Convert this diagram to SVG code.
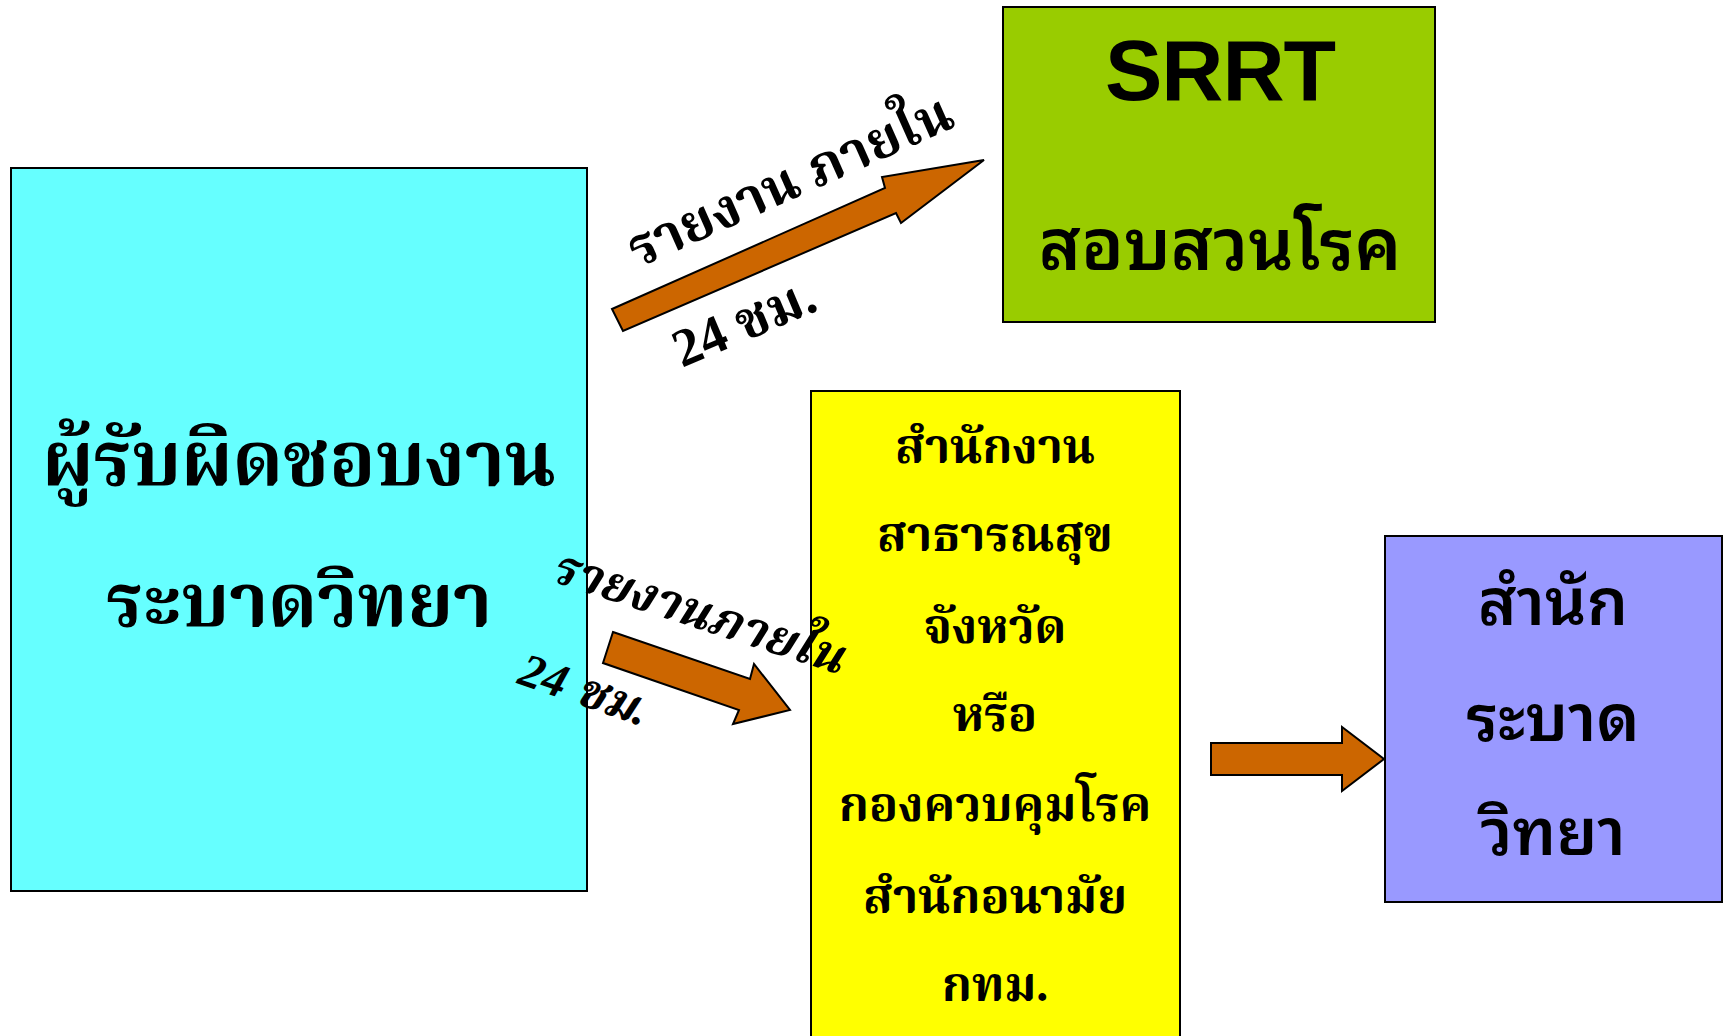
<svg xmlns="http://www.w3.org/2000/svg" width="1729" height="1036" viewBox="0 0 1729 1036">
<style>
.box{stroke:#000;stroke-width:2}
.arrow{fill:#CC6600;stroke:#000;stroke-width:2;stroke-linejoin:miter}
.serif{font-family:"Liberation Serif","Noto Serif Thai","Noto Sans Thai",serif;font-weight:bold;fill:#000}
.sans{font-family:"Liberation Sans","Noto Sans Thai Looped","Noto Serif Thai","Noto Sans Thai",sans-serif;fill:#000;font-weight:600}
.it{font-style:italic}
</style>
<rect width="1729" height="1036" fill="#fff"/>
<g id="node-responsible">
<rect class="box" x="11" y="168" width="576" height="723" fill="#66FFFF"/>
<text class="serif" x="299" y="485" font-size="76" text-anchor="middle">ผู้รับผิดชอบงาน</text>
<text class="serif" x="299" y="626" font-size="74" text-anchor="middle">ระบาดวิทยา</text>
</g>
<g id="node-srrt">
<rect class="box" x="1003" y="7" width="432" height="315" fill="#99CC00"/>
<text class="sans" x="1220" y="100" font-size="86" font-weight="bold" letter-spacing="-1" text-anchor="middle">SRRT</text>
<text class="sans" x="1220" y="270" font-size="71" text-anchor="middle">สอบสวนโรค</text>
</g>
<g id="node-provincial">
<rect class="box" x="811" y="391" width="369" height="660" fill="#FFFF00"/>
<g class="serif" font-size="48" text-anchor="middle">
<text x="995" y="463">สำนักงาน</text>
<text x="995" y="551">สาธารณสุข</text>
<text x="995" y="643">จังหวัด</text>
<text x="995" y="731">หรือ</text>
<text x="995" y="821">กองควบคุมโรค</text>
<text x="995" y="913">สำนักอนามัย</text>
<text x="995" y="1001">กทม.</text>
</g>
</g>
<g id="node-epidemiology">
<rect class="box" x="1385" y="536" width="337" height="366" fill="#9999FF"/>
<g class="sans" font-size="65" text-anchor="middle">
<text x="1553" y="625">สำนัก</text>
<text x="1553" y="741">ระบาด</text>
<text x="1553" y="855">วิทยา</text>
</g>
</g>
<g id="connectors">
<polygon class="arrow" points="612,309 885,188 882,177 984,160 901,223 896,213 623,331"/>
<polygon class="arrow" points="613,632 750,679 754,664 790,710 733,724 739,710 603,663"/>
<polygon class="arrow" points="1211,743 1342,743 1342,727 1384,759 1342,791 1342,775 1211,775"/>
<text class="serif" font-size="54" transform="translate(638,268) rotate(-24)">รายงาน ภายใน</text>
<text class="serif" font-size="54" transform="translate(682,368) rotate(-23)">24 ชม.</text>
<text class="serif it" font-size="49" transform="translate(548,580) rotate(18)">รายงานภายใน</text>
<text class="serif it" font-size="48" transform="translate(516,683) rotate(19)">24 ชม.</text>
</g>
</svg>
